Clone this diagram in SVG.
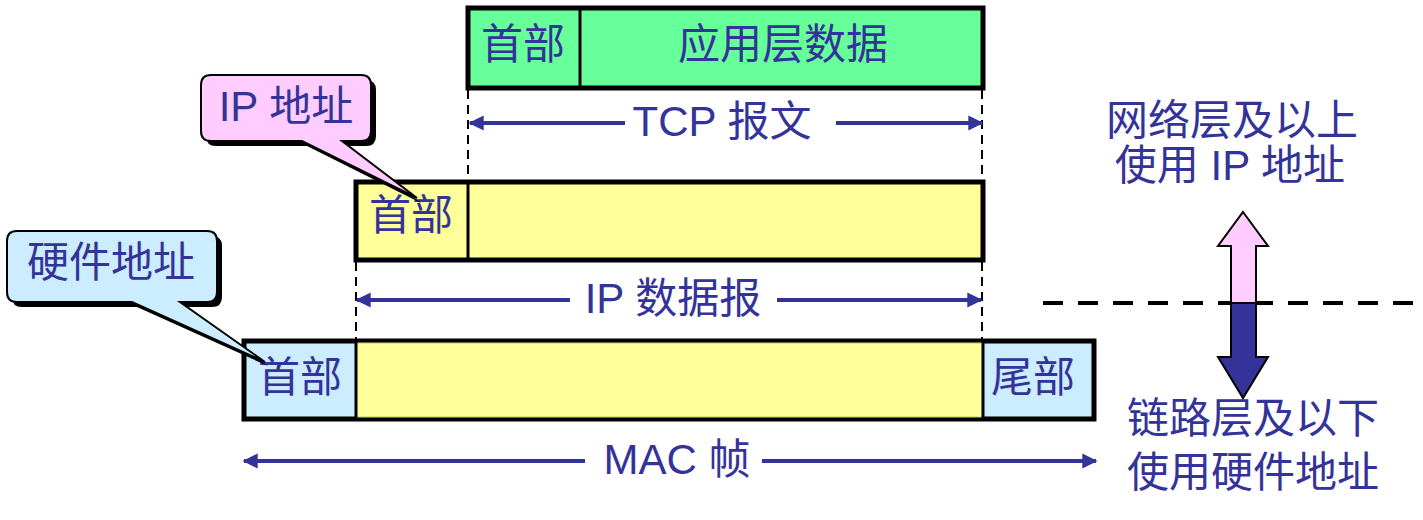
<svg xmlns="http://www.w3.org/2000/svg" width="1423" height="520" viewBox="0 0 1423 520">
<defs>
<style>
.t{font-family:"Liberation Sans","Noto Sans CJK SC",sans-serif;font-size:42px;fill:#333399;text-anchor:middle;dominant-baseline:central}
.box{stroke:#000;stroke-width:5}
.div{stroke:#000;stroke-width:3}
.dash{stroke:#000;stroke-width:2;stroke-dasharray:9,6;fill:none}
.arr{stroke:#333399;stroke-width:4;fill:none;marker-end:url(#ah)}
</style>
<marker id="ah" viewBox="0 0 10 10" refX="9" refY="5" markerWidth="4.5" markerHeight="3.8" orient="auto" markerUnits="strokeWidth">
<path d="M0,0 L10,5 L0,10 Z" fill="#333399"/>
</marker>
</defs>

<g id="tcp-segment">
<rect x="468" y="8" width="515" height="80" fill="#66FF99" class="box"/>
<line x1="580" y1="8" x2="580" y2="88" class="div"/>
<text class="t" x="523" y="44">首部</text>
<text class="t" x="783" y="44">应用层数据</text>
</g>

<g id="ip-datagram">
<rect x="356" y="182" width="627" height="78" fill="#FFFF99" class="box"/>
<line x1="468" y1="182" x2="468" y2="260" class="div"/>
<text class="t" x="411" y="215">首部</text>
</g>

<g id="mac-frame">
<rect x="244" y="341" width="850" height="78" fill="#CCECFF" class="box"/>
<rect x="356" y="343" width="627" height="74" fill="#FFFF99" stroke="#CCCC66" stroke-width="1"/>
<line x1="356" y1="341" x2="356" y2="419" class="div"/>
<line x1="983" y1="341" x2="983" y2="419" class="div"/>
<text class="t" x="300" y="377">首部</text>
<text class="t" x="1033" y="377">尾部</text>
</g>

<g id="callout-ip">
<path d="M216,80 L366,80 Q376,80 376,90 L376,136 Q376,146 366,146 L347,146 L421,203 L307,146 L216,146 Q206,146 206,136 L206,90 Q206,80 216,80 Z" fill="#000"/>
<path d="M211,75 L361,75 Q371,75 371,85 L371,131 Q371,141 361,141 L342,141 L417,198 L302,141 L211,141 Q201,141 201,131 L201,85 Q201,75 211,75 Z" fill="#FFCCFF" stroke="#000" stroke-width="2"/>
<text class="t" x="286" y="106">IP 地址</text>
</g>

<g id="callout-hw">
<path d="M22,236 L212,236 Q222,236 222,246 L222,297 Q222,307 212,307 L185,307 L268,366 L137,307 L22,307 Q12,307 12,297 L12,246 Q12,236 22,236 Z" fill="#000"/>
<path d="M17,231 L207,231 Q217,231 217,241 L217,292 Q217,302 207,302 L180,302 L265,362 L132,302 L17,302 Q7,302 7,292 L7,241 Q7,231 17,231 Z" fill="#CCECFF" stroke="#000" stroke-width="2"/>
<text class="t" x="111" y="262">硬件地址</text>
</g>

<g id="labels-right">
<text class="t" x="1232" y="120">网络层及以上</text>
<text class="t" x="1230" y="165">使用 IP 地址</text>
<text class="t" x="1253" y="418">链路层及以下</text>
<text class="t" x="1253" y="472">使用硬件地址</text>
</g>

<g id="layer-arrow">
<line x1="1043" y1="303" x2="1413" y2="303" stroke="#000" stroke-width="4" stroke-dasharray="20,15"/>
<path d="M1243,212 L1268,246 L1256,246 L1256,303 L1231,303 L1231,246 L1218,246 Z" fill="#FFCCFF" stroke="#000" stroke-width="2"/>
<path d="M1231,303 L1256,303 L1256,357 L1268,357 L1243,398 L1218,357 L1231,357 Z" fill="#333399" stroke="#000" stroke-width="2"/>
</g>

<g id="connectors">
<line x1="468" y1="90" x2="468" y2="181" class="dash"/>
<line x1="982" y1="90" x2="982" y2="181" class="dash"/>
<line x1="356" y1="262" x2="356" y2="340" class="dash"/>
<line x1="982" y1="262" x2="982" y2="340" class="dash"/>
<path d="M625,123 L470,123" class="arr"/>
<path d="M836,123 L982,123" class="arr"/>
<text class="t" x="722" y="121">TCP 报文</text>
<path d="M570,300 L357,300" class="arr"/>
<path d="M777,300 L981,300" class="arr"/>
<text class="t" x="673" y="298">IP 数据报</text>
<path d="M585,461 L244,461" class="arr"/>
<path d="M762,461 L1096,461" class="arr"/>
<text class="t" x="677" y="459">MAC 帧</text>
</g>
</svg>
